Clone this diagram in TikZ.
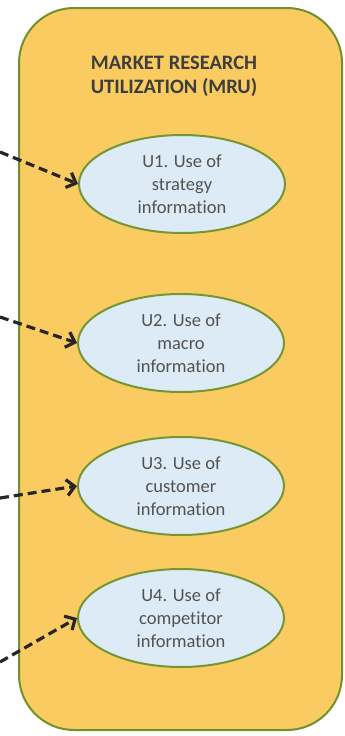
\documentclass[tikz,border=0pt]{standalone}
\usepackage{fontspec}
\setmainfont{Carlito}[Ligatures=NoCommon]
\usetikzlibrary{arrows.meta,shapes.geometric}
\definecolor{boxfill}{RGB}{249,203,96}
\definecolor{boxline}{RGB}{112,146,42}
\definecolor{ellfill}{RGB}{221,235,246}
\definecolor{ellline}{RGB}{118,150,52}
\definecolor{titletext}{RGB}{62,62,62}
\definecolor{elltext}{RGB}{82,82,82}
\tikzset{
  usecase/.style={ellipse, draw=ellline, line width=2pt, fill=ellfill,
    minimum width=206pt, minimum height=98pt, inner sep=0pt, align=center,
    text=elltext, font=\fontsize{18.5}{23}\selectfont},
  flow/.style={draw=black!85, line width=3.2pt, dash pattern=on 9pt off 5pt,
    -{Straight Barb[length=8pt,width=16pt,line width=3.2pt]}},
}
\begin{document}
\begin{tikzpicture}[x=1pt,y=-1pt]
\useasboundingbox (0,0) rectangle (345,736);
\fill[white] (0,0) rectangle (345,736);
\node[draw=boxline, line width=2pt, fill=boxfill, rounded corners=55pt,
  minimum width=323pt, minimum height=722pt, inner sep=0pt] (mru) at (180.5,369) {};
\node[align=center, text=titletext, font=\bfseries\fontsize{20.5}{24}\selectfont] (title) at (174,76) {MARKET RESEARCH\\UTILIZATION (MRU)};
\node[usecase] (u1) at (182,184) {U1. Use of\\strategy\\information};
\node[usecase] (u2) at (181,343) {U2. Use of\\macro\\information};
\node[usecase] (u3) at (181,486) {U3. Use of\\customer\\information};
\node[usecase] (u4) at (181,618) {U4. Use of\\competitor\\information};
\coordinate (s1) at (0,152);
\coordinate (s2) at (0,317);
\coordinate (s3) at (0,498);
\coordinate (s4) at (0,662);
\draw[flow] (s1) -- (u1.west);
\draw[flow] (s2) -- (u2.west);
\draw[flow] (s3) -- (u3.west);
\draw[flow] (s4) -- (u4.west);
\end{tikzpicture}
\end{document}
